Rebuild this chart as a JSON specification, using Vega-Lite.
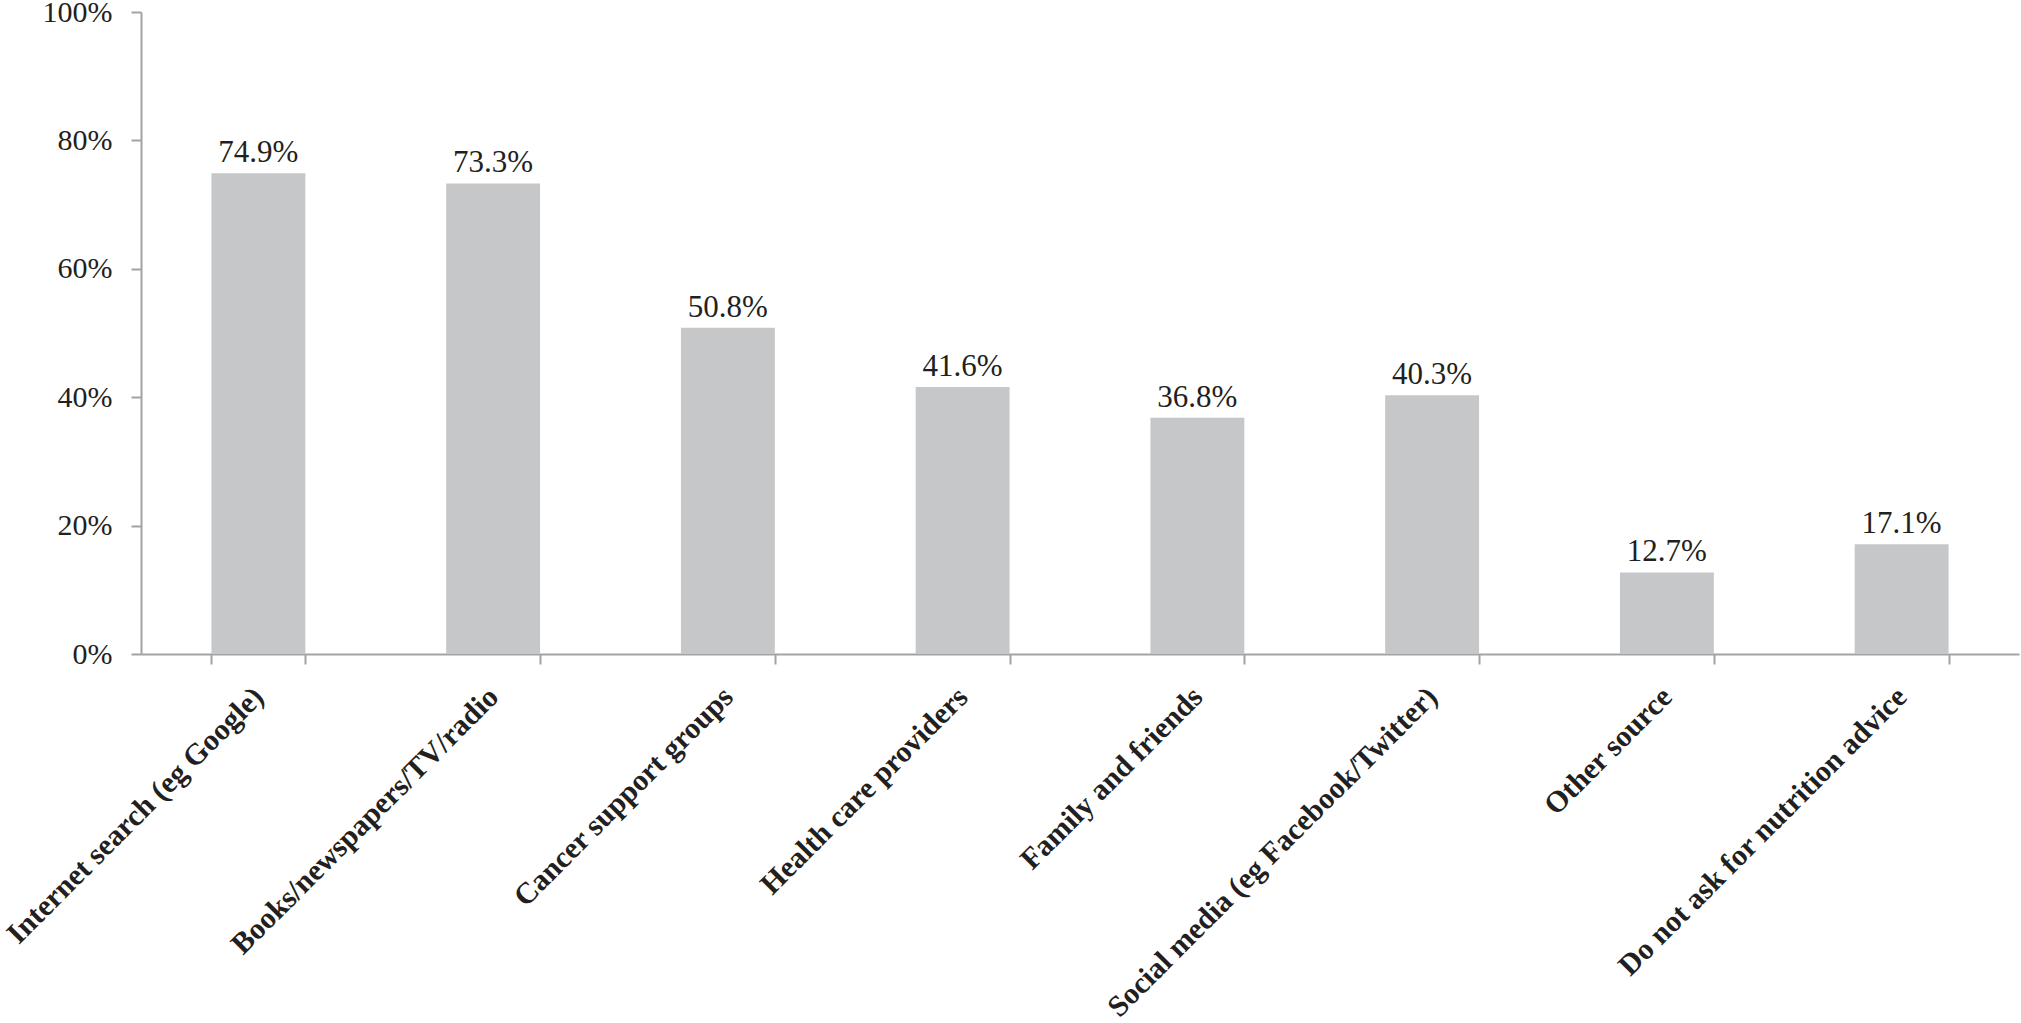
{
  "$schema": "https://vega.github.io/schema/vega-lite/v6.json",
  "autosize": "none",
  "padding": {"left": 141, "top": 12, "right": 2, "bottom": 369},
  "width": 1878,
  "height": 642,
  "background": "white",
  "config": {
    "view": {"stroke": null},
    "axis": {
      "grid": false,
      "title": null,
      "domainColor": "#a3a3a3",
      "domainWidth": 2,
      "tickColor": "#a3a3a3",
      "tickWidth": 2,
      "tickSize": 10,
      "labelFont": "Times New Roman, Liberation Serif, serif",
      "labelColor": "#231f20"
    }
  },
  "data": {
    "values": [
      {"source": "Internet search (eg Google)", "value": 0.749},
      {"source": "Books/newspapers/TV/radio", "value": 0.733},
      {"source": "Cancer support groups", "value": 0.508},
      {"source": "Health care providers", "value": 0.416},
      {"source": "Family and friends", "value": 0.368},
      {"source": "Social media (eg Facebook/Twitter)", "value": 0.403},
      {"source": "Other source", "value": 0.127},
      {"source": "Do not ask for nutrition advice", "value": 0.171}
    ]
  },
  "encoding": {
    "x": {
      "field": "source",
      "type": "nominal",
      "sort": null,
      "scale": {"paddingInner": 0.6, "paddingOuter": 0.3},
      "axis": {
        "labelAngle": -45,
        "labelAlign": "right",
        "labelBaseline": "middle",
        "labelFontSize": 30,
        "labelFontWeight": "bold",
        "labelPadding": 28,
        "tickBand": "extent",
        "labelLimit": 1000
      }
    },
    "y": {
      "field": "value",
      "type": "quantitative",
      "scale": {"domain": [0, 1], "nice": false},
      "axis": {
        "values": [0, 0.2, 0.4, 0.6, 0.8, 1],
        "format": ".0%",
        "labelFontSize": 30,
        "labelPadding": 19
      }
    }
  },
  "layer": [
    {"mark": {"type": "bar", "color": "#c6c7c9"}},
    {
      "mark": {
        "type": "text",
        "font": "Times New Roman, Liberation Serif, serif",
        "fontSize": 31,
        "color": "#231f20",
        "baseline": "alphabetic",
        "dy": -11
      },
      "encoding": {"text": {"field": "value", "type": "quantitative", "format": ".1%"}}
    }
  ]
}
